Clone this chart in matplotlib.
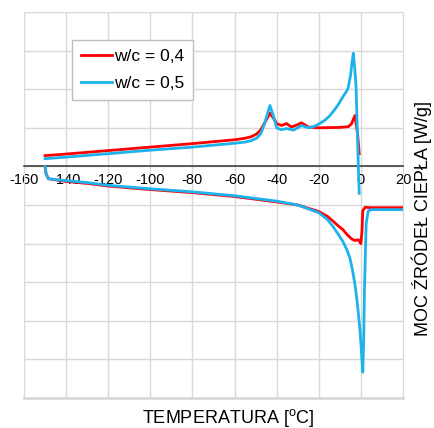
import numpy as np
import matplotlib
matplotlib.use("Agg")
import matplotlib.pyplot as plt

plt.rcParams['font.family'] = ['Liberation Sans', 'DejaVu Sans']
plt.rcParams['mathtext.fontset'] = 'custom'
plt.rcParams['mathtext.rm'] = 'Liberation Sans'
plt.rcParams['axes.unicode_minus'] = False

# heating run (upper curves), w/c = 0,4
t_heat_04 = [-150, -140, -120, -100, -80, -60, -55, -52, -49.5, -47.5, -45.5, -43.2, -41.5, -40,
             -37.7, -35.3, -33, -30.5, -28.2, -25, -20, -10, -5.9, -4.5, -2.8, -1.5, -0.8]
q_heat_04 = [0.28, 0.32, 0.41, 0.50, 0.59, 0.69, 0.73, 0.77, 0.84, 0.95, 1.15, 1.38, 1.25, 1.11,
             1.06, 1.11, 1.02, 1.07, 1.13, 1.02, 1.00, 1.01, 1.03, 1.10, 1.32, 0.80, 0.33]

# heating run (upper curves), w/c = 0,5
t_heat_05 = [-150, -140, -120, -100, -80, -60, -55, -52, -49.5, -47.5, -45.5, -43.2, -41.5, -40,
             -37.7, -35.3, -32, -30, -28.2, -25, -22, -19.6, -17, -15, -13.3, -11, -8.6,
             -7, -6.1, -4.9, -4.2, -3.6, -3.0, -2.3, -1.2, -0.8]
q_heat_05 = [0.20, 0.24, 0.33, 0.42, 0.50, 0.60, 0.63, 0.67, 0.73, 0.85, 1.15, 1.58, 1.30, 1.00,
             0.95, 0.98, 0.94, 1.00, 1.06, 1.00, 1.04, 1.11, 1.20, 1.30, 1.41, 1.58, 1.80,
             1.93, 2.02, 2.36, 2.70, 2.93, 2.60, 2.06, 0.00, -0.70]

# cooling run (lower curves), w/c = 0,4
t_cool_04 = [-150, -149.5, -148.4, -140, -130, -120, -100, -80, -60, -40, -30, -20,
             -16, -13.2, -11, -8.5, -6.5, -4.4, -2.8, -1.2, 0, 0.5, 0.9, 2, 5, 20]
q_cool_04 = [0.0, -0.20, -0.32, -0.39, -0.44, -0.51, -0.60, -0.68, -0.78, -0.92, -1.00, -1.17,
             -1.29, -1.42, -1.53, -1.64, -1.77, -1.88, -1.92, -1.90, -2.00, -1.70, -1.15,
             -1.06, -1.07, -1.07]

# cooling run (lower curves), w/c = 0,5
t_cool_05 = [-150, -149.5, -148.4, -140, -130, -120, -100, -80, -60, -40, -30, -20,
             -16, -13.2, -11, -8.5, -6.5, -5.2, -4, -2.8, -2, -1.2, -0.5, 0, 0.5, 0.9,
             1.3, 1.7, 2.5, 3.5, 5, 20]
q_cool_05 = [0.0, -0.20, -0.32, -0.37, -0.42, -0.49, -0.58, -0.66, -0.76, -0.90, -1.00, -1.20,
             -1.37, -1.56, -1.74, -1.95, -2.18, -2.38, -2.68, -3.07, -3.40, -3.80, -4.20,
             -4.57, -5.00, -5.33, -4.60, -3.20, -1.48, -1.15, -1.12, -1.12]

red = '#ff0000'
blue = '#1cb2ec'
grid_col = '#d9d9d9'

fig = plt.figure(figsize=(4.34, 4.28), dpi=100)
ax = fig.add_axes([24 / 434, 30 / 428, 379 / 434, 386 / 428])

ax.plot(t_heat_04, q_heat_04, color=red, lw=2, label='w/c = 0,4', zorder=3)
ax.plot(t_cool_04, q_cool_04, color=red, lw=2, zorder=3)
ax.plot(t_heat_05, q_heat_05, color=blue, lw=2, label='w/c = 0,5', zorder=4)
ax.plot(t_cool_05, q_cool_05, color=blue, lw=2, zorder=4)

ax.set_xlim(-160, 20)
ax.set_ylim(-6, 4)
ax.set_xticks(np.arange(-160, 21, 20))
ax.set_yticks(np.arange(-6, 5, 1))
ax.set_yticklabels([])
ax.grid(True, color=grid_col, lw=1)
ax.set_axisbelow(True)

# x axis drawn through zero, frame in light grey
ax.spines['bottom'].set_position(('data', 0))
ax.spines['bottom'].set_color('#404040')
ax.spines['bottom'].set_linewidth(1.2)
for side in ['top', 'left', 'right']:
    ax.spines[side].set_color(grid_col)
ax.axhline(-6, color=grid_col, lw=2, clip_on=False, zorder=1)
ax.tick_params(axis='both', length=0)
ax.tick_params(axis='x', labelsize=10.5, pad=5, colors='#000000')

leg = ax.legend(loc='upper left', bbox_to_anchor=(72 / 434, 1 - 40 / 428),
                bbox_transform=fig.transFigure, borderaxespad=0, fontsize=12.5,
                handlelength=1.8, handletextpad=0.1, labelspacing=0.7,
                fancybox=False, framealpha=1, borderpad=0.5)
leg.get_frame().set_edgecolor('#bfbfbf')
leg.get_frame().set_linewidth(1)

fig.text(228 / 434, 1 - 418 / 428, r'TEMPERATURA [$^{\mathrm{o}}$C]', fontsize=13,
         ha='center', va='center')
fig.text(422 / 434, 1 - 219 / 428, 'MOC ŹRÓDEŁ CIEPŁA [W/g]', fontsize=13,
         rotation=90, ha='center', va='center')

fig.savefig('out.png', dpi=100)
